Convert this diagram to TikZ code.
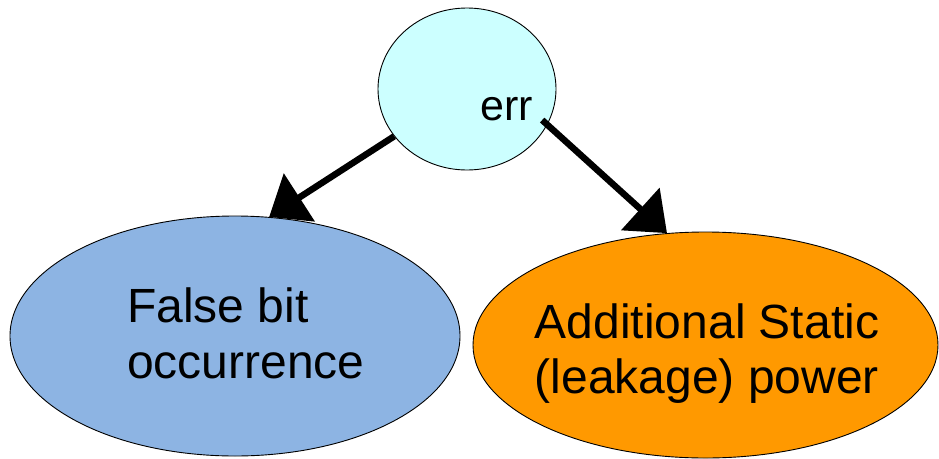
\documentclass[tikz,border=0pt]{standalone}
\usepackage{fontspec}
\setmainfont{Liberation Sans}
\usetikzlibrary{shapes.geometric,arrows.meta}
\definecolor{errfill}{HTML}{CCFFFF}
\definecolor{bitfill}{HTML}{8DB4E3}
\definecolor{powerfill}{HTML}{FF9900}
\tikzset{
  blob/.style={ellipse, draw=black, line width=0.9pt, inner sep=0pt},
  label/.style={inner sep=0pt, text=black},
  link/.style={line width=6.5pt, -{Triangle[length=36pt,width=56pt]}}
}
\begin{document}
\begin{tikzpicture}[x=1pt,y=-1pt]
  \useasboundingbox (0,0) rectangle (939,458);
  % cause and its two effects
  \node[blob, fill=errfill, minimum width=178pt, minimum height=162pt] (err) at (467,89) {};
  \node[blob, fill=bitfill, minimum width=450pt, minimum height=240pt] (bit) at (235,336) {};
  \node[blob, fill=powerfill, minimum width=465pt, minimum height=226pt] (power) at (705.5,345) {};
  % labels (base anchor sits on the last line)
  \node[label, anchor=base west, font=\fontsize{43}{50}\selectfont] (errtxt) at (480,120) {err};
  \node[label, anchor=base west, align=left, font=\fontsize{48}{56}\selectfont] (bittxt) at (127,378) {False bit\\occurrence};
  \node[label, anchor=base, align=center, font=\fontsize{48}{55}\selectfont] (powertxt) at (707,393) {Additional Static\\(leakage) power};
  % connectors
  \draw[link] (err.213) -- (bit.74.5);
  \draw[link, shorten <=-7pt] (err.-24) -- (power.109);
\end{tikzpicture}
\end{document}
